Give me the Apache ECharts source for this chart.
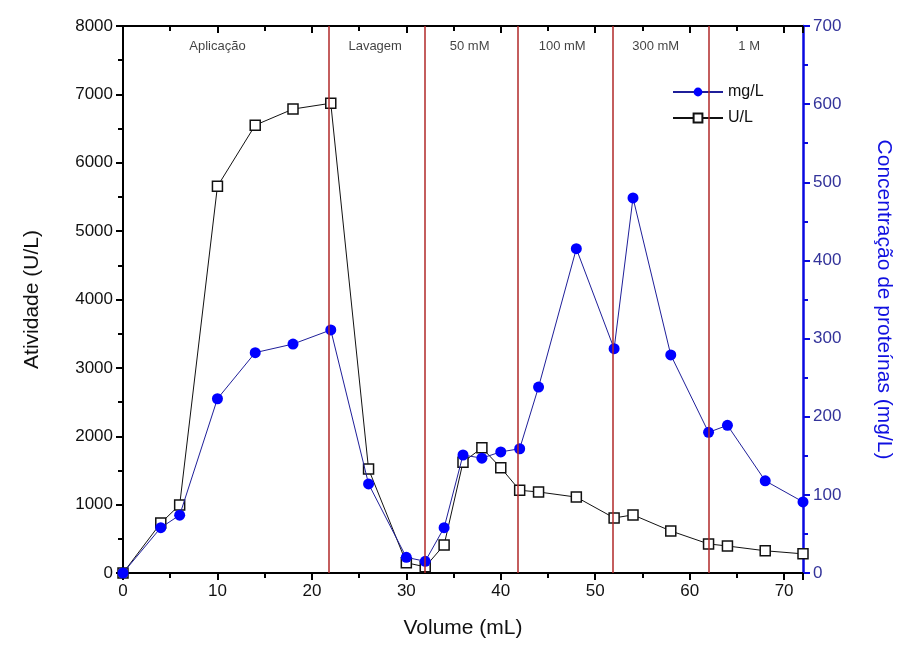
<!DOCTYPE html>
<html>
<head>
<meta charset="utf-8">
<script src="https://cdn.jsdelivr.net/npm/echarts@6/dist/echarts.min.js"></script>
<style>html,body{margin:0;padding:0;background:#fff}#c{width:897px;height:657px}</style>
</head>
<body>
<div id="c"></div>
<script>
// Data
const volume = [0, 4, 6, 10, 14, 18, 22, 26, 30, 32, 34, 36, 38, 40, 42, 44, 48, 52, 54, 58, 62, 64, 68, 72];
const activityUL = [0, 730, 995, 5655, 6550, 6785, 6870, 1520, 150, 90, 410, 1620, 1830, 1540, 1210, 1185, 1110, 805, 850, 615, 425, 395, 325, 280];
const proteinMgL = [0, 58, 74, 223, 282, 293, 311, 114, 20, 15, 58, 151, 147, 155, 159, 238, 415, 287, 480, 279, 180, 189, 118, 91];
const stageBoundaries = [21.8, 31.9, 41.8, 51.9, 62.0];
const stageNames = ['Aplicação', 'Lavagem', '50 mM', '100 mM', '300 mM', '1 M'];
const stageLabelX = [10.0, 26.7, 36.7, 46.5, 56.4, 66.3];
const stageLabelY = 7700;

const font = '"Liberation Sans", Arial, sans-serif';
const chart = echarts.init(document.getElementById('c'));

const pair = (xs, ys) => xs.map((x, i) => [x, ys[i]]);
const plain = v => String(v);

chart.setOption({
  animation: false,
  backgroundColor: '#fff',
  textStyle: { fontFamily: font },
  grid: { left: 123, right: 94, top: 26, bottom: 84, outerBoundsMode: 'none', containLabel: false },
  legend: {
    orient: 'vertical',
    left: 667, top: 79,
    itemWidth: 50, itemHeight: 11, itemGap: 10,
    data: ['mg/L', 'U/L'],
    textStyle: { fontFamily: font, fontSize: 16, color: '#111' }
  },
  xAxis: [{
    type: 'value', min: 0, max: 72, interval: 10,
    name: 'Volume (mL)', nameLocation: 'middle', nameGap: 45,
    nameTextStyle: { fontSize: 21, color: '#111', fontFamily: font },
    axisLine: { show: true, onZero: false, lineStyle: { color: '#000', width: 2 } },
    axisTick: { show: true, inside: false, length: 7, lineStyle: { color: '#000', width: 2 } },
    minorTick: { show: true, splitNumber: 2, length: 5, lineStyle: { color: '#000', width: 2 } },
    axisLabel: { fontSize: 17, color: '#111', margin: 10, fontFamily: font,
      showMaxLabel: false, formatter: plain },
    splitLine: { show: false }
  }, {
    type: 'value', min: 0, max: 72, interval: 10, position: 'top',
    axisLine: { show: true, onZero: false, lineStyle: { color: '#000', width: 2 } },
    axisTick: { show: true, inside: true, length: 7, lineStyle: { color: '#000', width: 2 } },
    minorTick: { show: true, splitNumber: 2, length: 5, lineStyle: { color: '#000', width: 2 } },
    axisLabel: { show: false },
    splitLine: { show: false }
  }],
  yAxis: [{
    type: 'value', min: 0, max: 8000, interval: 1000,
    name: 'Atividade (U/L)', nameLocation: 'middle', nameGap: 80, nameRotate: 90,
    nameTextStyle: { fontSize: 21, color: '#111', fontFamily: font },
    axisLine: { show: true, onZero: false, lineStyle: { color: '#000', width: 2 } },
    axisTick: { show: true, inside: false, length: 7, lineStyle: { color: '#000', width: 2 } },
    minorTick: { show: true, splitNumber: 2, length: 5, lineStyle: { color: '#000', width: 2 } },
    axisLabel: { fontSize: 17, color: '#111', margin: 10, fontFamily: font, formatter: plain },
    splitLine: { show: false }
  }, {
    type: 'value', min: 0, max: 700, interval: 100, position: 'right',
    name: 'Concentração de proteínas (mg/L)', nameLocation: 'middle', nameGap: 70, nameRotate: -90,
    nameTextStyle: { fontSize: 21, color: '#1010e0', fontFamily: font },
    axisLine: { show: true, onZero: false, lineStyle: { color: '#0a0ae0', width: 2.5 } },
    axisTick: { show: true, inside: false, length: 7, lineStyle: { color: '#0a0ae0', width: 2 } },
    minorTick: { show: true, splitNumber: 2, length: 5, lineStyle: { color: '#0a0ae0', width: 2 } },
    axisLabel: { fontSize: 17, color: '#33339a', margin: 10, fontFamily: font, formatter: plain },
    splitLine: { show: false }
  }],
  series: [{
    name: 'U/L', type: 'line', xAxisIndex: 0, yAxisIndex: 0,
    data: pair(volume, activityUL),
    symbol: 'rect', symbolSize: 10,
    lineStyle: { color: '#111', width: 1 },
    itemStyle: { color: '#fff', borderColor: '#111', borderWidth: 1.5 },
    z: 3,
    markLine: {
      silent: true, symbol: 'none', animation: false,
      label: { show: false },
      lineStyle: { color: '#b02828', width: 1.5, type: 'solid' },
      data: stageBoundaries.map(v => ({ xAxis: v }))
    }
  }, {
    name: 'mg/L', type: 'line', xAxisIndex: 0, yAxisIndex: 1,
    data: pair(volume, proteinMgL),
    symbol: 'circle', symbolSize: 11,
    lineStyle: { color: '#1f1f99', width: 1 },
    itemStyle: { color: '#0000ff' },
    z: 4
  }, {
    name: 'stages', type: 'scatter', xAxisIndex: 0, yAxisIndex: 0,
    data: stageLabelX.map((x, i) => ({ value: [x, stageLabelY], name: stageNames[i] })),
    symbolSize: 0, silent: true,
    label: { show: true, position: 'inside', formatter: p => p.name,
      fontSize: 13, color: '#111', fontFamily: font },
    labelLayout: { hideOverlap: false },
    z: 5
  }]
});
</script>
</body>
</html>
